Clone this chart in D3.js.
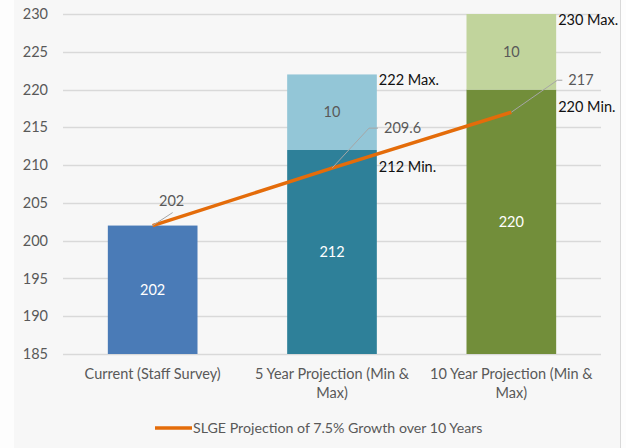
<!DOCTYPE html>
<html>
<head>
<meta charset="utf-8">
<script src="https://cdn.jsdelivr.net/npm/d3@7"></script>
<style>
  body { margin: 0; background: #fdfdfd; }
  svg { display: block; font-family: Lato, "Open Sans", sans-serif; }
</style>
</head>
<body>
<div id="chart"></div>
<script>
// categories and values
var categories = ["Current (Staff Survey)", "5 Year Projection (Min & Max)", "10 Year Projection (Min & Max)"];
var minValues = [202, 212, 220];
var extraValues = [0, 10, 10];
var projection = [202, 209.6, 217];
var yTicks = [185, 190, 195, 200, 205, 210, 215, 220, 225, 230];
var legendLabel = "SLGE Projection of 7.5% Growth over 10 Years";

var lowColors = ["#4a7bb7", "#2e8099", "#728e3a"];
var highColors = [null, "#93c6d7", "#c1d49c"];

var width = 626, height = 448;
var plotLeft = 63, plotRight = 601, plotTop = 14, plotBottom = 354;

var svg = d3.select("#chart").append("svg")
	.attr("width", width)
	.attr("height", height);

// panel background
svg.append("rect").attr("x", 14).attr("y", 0).attr("width", 606).attr("height", height).attr("fill", "#f7f7f7");
svg.append("line").attr("x1", 620.5).attr("x2", 620.5).attr("y1", 0).attr("y2", height)
	.attr("stroke", "#d9d9d9");

var x = d3.scaleBand()
	.domain(categories)
	.range([plotLeft, plotRight])
	.paddingInner(0.5)
	.paddingOuter(0.25);

var y = d3.scaleLinear()
	.domain([185, 230])
	.range([plotBottom, plotTop]);

// gridlines
svg.append("g")
	.selectAll("line")
	.data(yTicks)
	.join("line")
	.attr("x1", plotLeft).attr("x2", plotRight)
	.attr("y1", function(d) { return Math.round(y(d)) + 0.5; })
	.attr("y2", function(d) { return Math.round(y(d)) + 0.5; })
	.attr("stroke", "#d9d9d9")
	.attr("stroke-width", 1.5);

// y axis labels
var yAxis = svg.append("g")
	.attr("transform", "translate(" + plotLeft + ",0)")
	.call(d3.axisLeft(y).tickValues(yTicks).tickSize(0).tickPadding(15));
yAxis.select(".domain").remove();
yAxis.selectAll("text").attr("fill", "#595959").style("font-size", "14.5px").style("font-family", "Lato, sans-serif");

// min bars
svg.append("g")
	.selectAll("rect")
	.data(categories)
	.join("rect")
	.attr("x", function(d) { return x(d); })
	.attr("width", x.bandwidth())
	.attr("y", function(d, i) { return y(minValues[i]); })
	.attr("height", function(d, i) { return y(185) - y(minValues[i]); })
	.attr("fill", function(d, i) { return lowColors[i]; });

// max bars stacked on top
svg.append("g")
	.selectAll("rect")
	.data(categories.filter(function(d, i) { return extraValues[i] > 0; }))
	.join("rect")
	.attr("x", function(d) { return x(d); })
	.attr("width", x.bandwidth())
	.attr("y", function(d) { var i = categories.indexOf(d); return y(minValues[i] + extraValues[i]); })
	.attr("height", function(d) { var i = categories.indexOf(d); return y(minValues[i]) - y(minValues[i] + extraValues[i]); })
	.attr("fill", function(d) { return highColors[categories.indexOf(d)]; });

// inside labels
categories.forEach(function(c, i) {
	var cx = x(c) + x.bandwidth() / 2;
	svg.append("text")
		.attr("x", cx)
		.attr("y", (y(minValues[i]) + y(185)) / 2 + 5)
		.attr("text-anchor", "middle")
		.attr("fill", "#ffffff")
		.style("font-size", "14.5px")
		.text(minValues[i]);
	if (extraValues[i] > 0) {
		var top2 = minValues[i] + extraValues[i];
		svg.append("text")
			.attr("x", cx)
			.attr("y", (y(minValues[i]) + y(top2)) / 2 + 5)
			.attr("text-anchor", "middle")
			.attr("fill", "#595959")
			.style("font-size", "14.5px")
			.text(extraValues[i]);
		svg.append("text")
			.attr("x", x(c) + x.bandwidth() + 2)
			.attr("y", y(top2) + 11)
			.attr("fill", "#111111")
			.style("font-size", "14.5px")
			.text(top2 + " Max.");
		svg.append("text")
			.attr("x", x(c) + x.bandwidth() + 2)
			.attr("y", y(minValues[i]) + 22)
			.attr("fill", "#111111")
			.style("font-size", "14.5px")
			.text(minValues[i] + " Min.");
	}
});

// projection line
var line = d3.line()
	.x(function(d, i) { return x(categories[i]) + x.bandwidth() / 2; })
	.y(function(d) { return y(d); });

svg.append("path")
	.datum(projection)
	.attr("d", line)
	.attr("fill", "none")
	.attr("stroke", "#e46c0a")
	.attr("stroke-width", 3.5);

// projection labels with leader lines
var leaderOffsets = [[20, -13, 0], [37, -40, 9], [46, -32, 5]];
projection.forEach(function(v, i) {
	var px = x(categories[i]) + x.bandwidth() / 2, py = y(v);
	var o = leaderOffsets[i];
	var ex = px + o[0], ey = py + o[1];
	svg.append("polyline")
		.attr("points", [[px, py], [ex, ey], [ex + o[2], ey]].map(function(p) { return p.join(","); }).join(" "))
		.attr("fill", "none")
		.attr("stroke", "#a6a6a6")
		.attr("stroke-width", 1);
	svg.append("text")
		.attr("x", i === 0 ? ex - 1 : ex + o[2] + 6)
		.attr("y", i === 0 ? ey - 7 : ey + 5)
		.attr("text-anchor", i === 0 ? "middle" : "start")
		.attr("fill", "#595959")
		.style("font-size", "14.5px")
		.text(v);
});

// x axis labels, wrapped like the original
var xLines = [["Current (Staff Survey)"], ["5 Year Projection (Min &", "Max)"], ["10 Year Projection (Min &", "Max)"]];
categories.forEach(function(c, i) {
	var t = svg.append("text")
		.attr("x", x(c) + x.bandwidth() / 2)
		.attr("y", 379)
		.attr("text-anchor", "middle")
		.attr("fill", "#595959")
		.style("font-size", "14.5px");
	xLines[i].forEach(function(s, j) {
		t.append("tspan").attr("x", x(c) + x.bandwidth() / 2).attr("dy", j === 0 ? 0 : 19).text(s);
	});
});

// legend
svg.append("line")
	.attr("x1", 155).attr("x2", 192)
	.attr("y1", 428).attr("y2", 428)
	.attr("stroke", "#e46c0a")
	.attr("stroke-width", 3.5);
svg.append("text")
	.attr("x", 193)
	.attr("y", 433)
	.attr("fill", "#595959")
	.style("font-size", "14.2px")
	.text(legendLabel);
</script>
</body>
</html>
